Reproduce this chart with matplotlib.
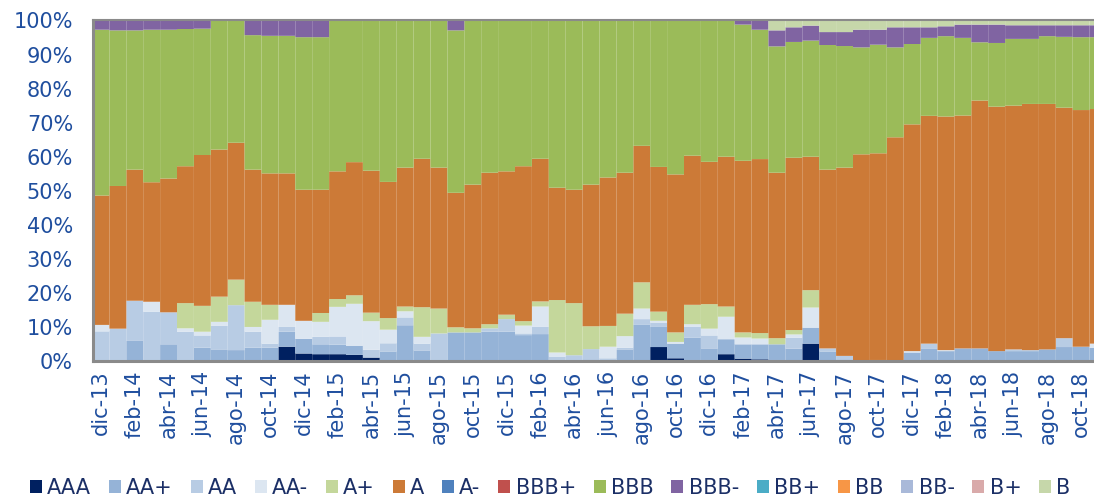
import matplotlib
matplotlib.use("Agg")
import matplotlib.pyplot as plt
import numpy as np

# month labels, dic-13 .. nov-18 (Spanish abbreviations)
MONTHS = ["ene", "feb", "mar", "abr", "may", "jun", "jul", "ago", "sep", "oct", "nov", "dic"]
periods = [f"{MONTHS[(11 + i) % 12]}-{13 + (11 + i) // 12}" for i in range(60)]

# share of portfolio by rating, %
aaa = [0, 0, 0, 0, 0, 0, 0, 0, 0, 0,
       0, 4.2, 2.2, 2.0, 2.0, 1.8, 1.0, 0, 0, 0,
       0, 0, 0, 0, 0, 0, 0, 0, 0, 0,
       0, 0, 0, 4.1, 0.8, 0.3, 0.3, 2.0, 0.7, 0.5,
       0.3, 0, 5.1, 0, 0, 0, 0, 0, 0, 0,
       0, 0, 0, 0, 0, 0, 0, 0, 0, 0]
aa_plus = [0, 0, 5.9, 0, 4.9, 0, 3.9, 3.4, 3.2, 3.9,
           3.9, 4.4, 4.3, 2.9, 2.8, 2.7, 0, 2.8, 10.5, 3.1,
           0, 8.4, 8.4, 8.6, 8.6, 7.6, 7.9, 0, 0, 0.5,
           0, 3.4, 10.6, 5.9, 4.3, 6.6, 3.4, 4.4, 4.2, 4.4,
           4.6, 3.6, 4.7, 2.8, 0.5, 0, 0, 0, 2.5, 3.7,
           2.9, 3.7, 3.7, 2.9, 2.9, 2.9, 3.4, 4.1, 4.2, 3.9]
aa = [8.7, 9.5, 11.8, 14.5, 9.4, 8.6, 3.6, 6.9, 13.2, 4.7,
      1.2, 1.4, 0, 2.2, 2.4, 0, 2.3, 2.4, 2.3, 2.0,
      8.1, 0, 0, 1.0, 3.7, 0.5, 2.2, 1.3, 1.7, 3.0,
      0.8, 0.5, 1.7, 1.3, 0, 3.1, 3.8, 0, 0, 0,
      0, 3.2, 0, 0.9, 1.0, 0, 0.3, 0, 0, 1.4,
      0, 0, 0, 0, 0.5, 0.3, 0, 2.6, 0, 0]
aa_minus = [1.9, 0, 0, 2.9, 0, 1.0, 1.1, 1.2, 0, 1.4,
            7.0, 6.5, 5.3, 4.4, 8.7, 12.3, 8.4, 4.0, 1.8, 2.0,
            0, 0, 0, 0, 0, 2.3, 5.9, 1.2, 0, 0,
            3.4, 3.4, 3.1, 0.5, 0.5, 0.8, 2.0, 6.6, 2.0, 1.7,
            0, 1.0, 5.9, 0, 0, 0, 0, 0, 0.4, 0,
            0.3, 0, 0, 0, 0, 0, 0, 0, 0, 1.2]
a_plus = [0, 0, 0, 0, 0, 7.4, 7.6, 7.4, 7.5, 7.4,
          4.4, 0, 0, 2.6, 2.3, 2.5, 2.5, 3.4, 1.4, 8.7,
          7.3, 1.5, 1.2, 1.2, 1.3, 1.3, 1.5, 15.4, 15.3, 6.7,
          6.1, 6.6, 7.7, 2.7, 2.8, 5.7, 7.2, 3.0, 1.5, 1.6,
          1.8, 1.3, 5.1, 0, 0, 0, 0, 0, 0, 0,
          0, 0, 0, 0, 0, 0, 0, 0, 0, 0]
a = [38.0, 41.9, 38.5, 35.1, 39.3, 40.2, 44.3, 43.2, 40.2, 38.8,
     38.6, 38.6, 38.5, 36.2, 37.5, 39.1, 41.7, 40.0, 40.8, 43.6,
     41.4, 39.5, 42.2, 44.5, 42.1, 45.5, 41.9, 33.0, 33.3, 41.6,
     43.6, 41.4, 40.1, 42.5, 46.4, 43.8, 41.8, 44.0, 50.4, 51.1,
     48.6, 50.6, 39.2, 52.5, 55.3, 60.7, 60.7, 65.7, 66.6, 66.9,
     68.6, 68.4, 72.8, 71.8, 71.6, 72.3, 72.1, 67.7, 69.5, 68.9]
a_minus = [0] * 60
bbb_plus = [0] * 60
bbb = [48.7, 45.7, 40.9, 44.8, 43.7, 40.3, 37.1, 37.9, 35.9, 39.5,
       40.4, 40.4, 44.8, 44.8, 44.3, 41.6, 44.1, 47.4, 43.2, 40.6,
       43.2, 47.7, 48.2, 44.7, 44.3, 42.8, 40.6, 49.1, 49.7, 48.2,
       46.1, 44.7, 36.8, 43.0, 45.2, 39.7, 41.5, 40.0, 40.0, 38.0,
       37.1, 34.0, 34.1, 36.6, 35.7, 31.4, 31.9, 26.4, 23.6, 22.9,
       23.6, 22.8, 17.1, 18.7, 19.6, 19.1, 19.9, 20.8, 21.4, 21.1]
bbb_minus = [2.7, 2.9, 2.9, 2.7, 2.7, 2.5, 2.4, 0, 0, 4.3,
             4.5, 4.5, 4.9, 4.9, 0, 0, 0, 0, 0, 0,
             0, 2.9, 0, 0, 0, 0, 0, 0, 0, 0,
             0, 0, 0, 0, 0, 0, 0, 0, 1.2, 2.7,
             4.7, 4.3, 4.4, 3.8, 4.1, 5.2, 4.4, 5.9, 4.9, 3.1,
             2.9, 3.9, 5.2, 5.4, 4.0, 4.0, 3.2, 3.4, 3.5, 3.5]
bb_plus = [0] * 60
bb = [0] * 60
bb_minus = [0] * 60
b_plus = [0] * 60
b = [0, 0, 0, 0, 0, 0, 0, 0, 0, 0,
     0, 0, 0, 0, 0, 0, 0, 0, 0, 0,
     0, 0, 0, 0, 0, 0, 0, 0, 0, 0,
     0, 0, 0, 0, 0, 0, 0, 0, 0, 0,
     2.9, 2.0, 1.5, 3.4, 3.4, 2.7, 2.7, 2.0, 2.0, 2.0,
     1.7, 1.2, 1.2, 1.2, 1.4, 1.4, 1.4, 1.4, 1.4, 1.4]

ratings = ["AAA", "AA+", "AA", "AA-", "A+", "A", "A-", "BBB+", "BBB", "BBB-",
           "BB+", "BB", "BB-", "B+", "B"]
series = [aaa, aa_plus, aa, aa_minus, a_plus, a, a_minus, bbb_plus, bbb, bbb_minus,
          bb_plus, bb, bb_minus, b_plus, b]
colors = ["#002060", "#95B3D7", "#B8CCE4", "#DCE6F1", "#C4D79B", "#CC7A37", "#4F81BD",
          "#C0504D", "#9BBB59", "#8064A2", "#4BACC6", "#F79646", "#A9B9D9", "#D9AAAA",
          "#C6D7AA"]

TICK_COLOR = "#1F4E9E"
LEGEND_COLOR = "#1B2F66"
FRAME_COLOR = "#8A8A8A"

fig = plt.figure(figsize=(10.94, 5.0), dpi=100)
# the plot area runs past the right edge of the image, so the last bar is cut
ax = fig.add_axes([92.5 / 1094, 139 / 500, 1014 / 1094, 340.5 / 500])

x = np.arange(len(periods))
bottom = np.zeros(len(periods))
for name, vals, col in zip(ratings, series, colors):
    vals = np.array(vals, dtype=float)
    # no pixel snapping, otherwise a white seam shows between two bars
    bars = ax.bar(x, vals, width=1.0, bottom=bottom, color=col, linewidth=0,
                  label=name)
    for p in bars:
        p.set_snap(False)
    bottom += vals

ax.set_xlim(-0.5, len(periods) - 0.5)
ax.set_ylim(0, 100)
ax.set_yticks(np.arange(0, 101, 10))
ax.set_yticklabels([f"{v}%" for v in range(0, 101, 10)])
ax.set_xticks(x[::2])
ax.set_xticklabels(periods[::2], rotation=90)

ax.tick_params(axis="y", length=0, pad=14, labelsize=15, labelcolor=TICK_COLOR)
ax.tick_params(axis="x", length=0, pad=7, labelsize=15, labelcolor=TICK_COLOR)

for side in ["left", "bottom"]:
    ax.spines[side].set_color(FRAME_COLOR)
    ax.spines[side].set_linewidth(2.2)
ax.spines["top"].set_color(FRAME_COLOR)
ax.spines["top"].set_linewidth(1.5)
ax.spines["right"].set_visible(False)

handles, labels = ax.get_legend_handles_labels()
leg = fig.legend(handles, labels, loc="center", bbox_to_anchor=(0.503, 0.024),
                 ncol=15, frameon=False, fontsize=15, handlelength=0.58,
                 handleheight=0.55, handletextpad=0.25, columnspacing=0.85,
                 borderaxespad=0, borderpad=0)
for t in leg.get_texts():
    t.set_color(LEGEND_COLOR)

fig.savefig("out.png", dpi=100)
